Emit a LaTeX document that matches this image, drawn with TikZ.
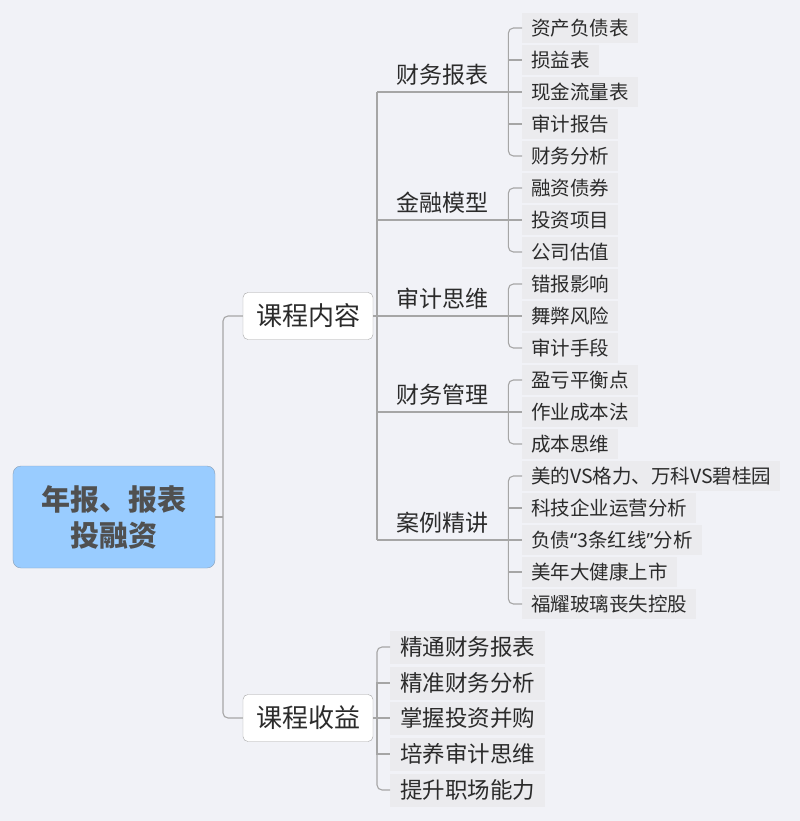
\documentclass[tikz,border=0pt]{standalone}
\usepackage{fontspec}
\setmainfont{Noto Sans CJK SC}
\newfontfamily\latinf{Noto Sans}
\definecolor{bg}{HTML}{F1F2F7}
\definecolor{leafbg}{HTML}{EBEBEE}
\definecolor{rootfill}{HTML}{99CCFF}
\definecolor{rootdraw}{HTML}{8AA0B8}
\definecolor{conncol}{HTML}{A6A6A6}
\definecolor{txt}{HTML}{2B2B2B}
\definecolor{roottxt}{HTML}{505050}
\begin{document}
\begin{tikzpicture}[x=1bp,y=-1bp,
  conn/.style={draw=conncol,line width=1.1bp},
  rc/.style={rounded corners=5bp},
  rootbox/.style={draw=rootdraw,fill=rootfill,rounded corners=8bp,minimum width=202bp,minimum height=102bp,inner sep=0,align=center,font=\fontsize{29bp}{36bp}\selectfont\bfseries,text=roottxt},
  l1box/.style={draw=conncol,fill=white,rounded corners=5bp,minimum width=130bp,minimum height=47bp,inner sep=0,font=\fontsize{26bp}{30bp}\selectfont,text=txt},
  l2node/.style={anchor=south west,minimum width=131bp,minimum height=34bp,inner sep=0,font=\fontsize{23bp}{26bp}\selectfont,text=txt},
  leaf/.style={anchor=west,fill=leafbg,inner xsep=9bp,inner ysep=0,minimum height=30bp,font=\fontsize{19.5bp}{22bp}\selectfont,text=txt},
  leafb/.style={anchor=west,fill=leafbg,inner xsep=10bp,inner ysep=0,minimum height=33bp,font=\fontsize{22.5bp}{26bp}\selectfont,text=txt}
]
\fill[bg] (0,0) rectangle (800,821);
\useasboundingbox (0,0) rectangle (800,821);

% root and level 1
\node[rootbox] (root) at (114,517) {年报、报表\\投融资};
\node[l1box] (c1) at (308,316) {课程内容};
\node[l1box] (c2) at (308,718) {课程收益};
\coordinate (tr) at (223,517);
\draw[conn] (root.east) -- (tr);
\draw[conn,rc] (c1.west) -| (tr) |- (c2.west);

% level 2
\node[l2node] (f1) at (377,92) {财务报表};
\node[l2node] (f2) at (377,220) {金融模型};
\node[l2node] (f3) at (377,316) {审计思维};
\node[l2node] (f4) at (377,412) {财务管理};
\node[l2node] (f5) at (377,540) {案例精讲};
\draw[conn] (c1.east) -- (f3.south west);
\draw[conn] (f1.south west) -- (f5.south west);
\foreach \f in {f1,f2,f3,f4,f5} \draw[conn] (\f.south west) -- (\f.south east);

% leaves
\node[leaf] (a1) at (522,28) {资产负债表};
\node[leaf] (a2) at (522,60) {损益表};
\node[leaf] (a3) at (522,92) {现金流量表};
\node[leaf] (a4) at (522,124) {审计报告};
\node[leaf] (a5) at (522,156) {财务分析};
\node[leaf] (b1) at (522,188) {融资债券};
\node[leaf] (b2) at (522,220) {投资项目};
\node[leaf] (b3) at (522,252) {公司估值};
\node[leaf] (d1) at (522,284) {错报影响};
\node[leaf] (d2) at (522,316) {舞弊风险};
\node[leaf] (d3) at (522,348) {审计手段};
\node[leaf] (e1) at (522,380) {盈亏平衡点};
\node[leaf] (e2) at (522,412) {作业成本法};
\node[leaf] (e3) at (522,444) {成本思维};
\node[leaf] (g1) at (522,476) {美的VS格力、万科VS碧桂园};
\node[leaf] (g2) at (522,508) {科技企业运营分析};
\node[leaf] (g3) at (522,540) {负债{\latinf “}3条红线{\latinf ”}分析};
\node[leaf] (g4) at (522,572) {美年大健康上市};
\node[leaf] (g5) at (522,604) {福耀玻璃丧失控股};

\draw[conn,rc] (f1.south east) |- (a1.west);
\draw[conn] (f1.south east) |- (a2.west);
\draw[conn] (f1.south east) -- (a3.west);
\draw[conn] (f1.south east) |- (a4.west);
\draw[conn,rc] (f1.south east) |- (a5.west);

\draw[conn,rc] (f2.south east) |- (b1.west);
\draw[conn] (f2.south east) -- (b2.west);
\draw[conn,rc] (f2.south east) |- (b3.west);

\draw[conn,rc] (f3.south east) |- (d1.west);
\draw[conn] (f3.south east) -- (d2.west);
\draw[conn,rc] (f3.south east) |- (d3.west);

\draw[conn,rc] (f4.south east) |- (e1.west);
\draw[conn] (f4.south east) -- (e2.west);
\draw[conn,rc] (f4.south east) |- (e3.west);

\draw[conn,rc] (f5.south east) |- (g1.west);
\draw[conn] (f5.south east) |- (g2.west);
\draw[conn] (f5.south east) -- (g3.west);
\draw[conn] (f5.south east) |- (g4.west);
\draw[conn,rc] (f5.south east) |- (g5.west);

% benefits
\node[leafb] (h1) at (390,647) {精通财务报表};
\node[leafb] (h2) at (390,683) {精准财务分析};
\node[leafb] (h3) at (390,718) {掌握投资并购};
\node[leafb] (h4) at (390,754) {培养审计思维};
\node[leafb] (h5) at (390,790) {提升职场能力};
\coordinate (t2) at (377,718);
\draw[conn] (c2.east) -- (h3.west);
\draw[conn,rc] (h1.west) -| (t2) |- (h5.west);
\draw[conn] (t2) |- (h2.west);
\draw[conn] (t2) |- (h4.west);
\end{tikzpicture}
\end{document}
